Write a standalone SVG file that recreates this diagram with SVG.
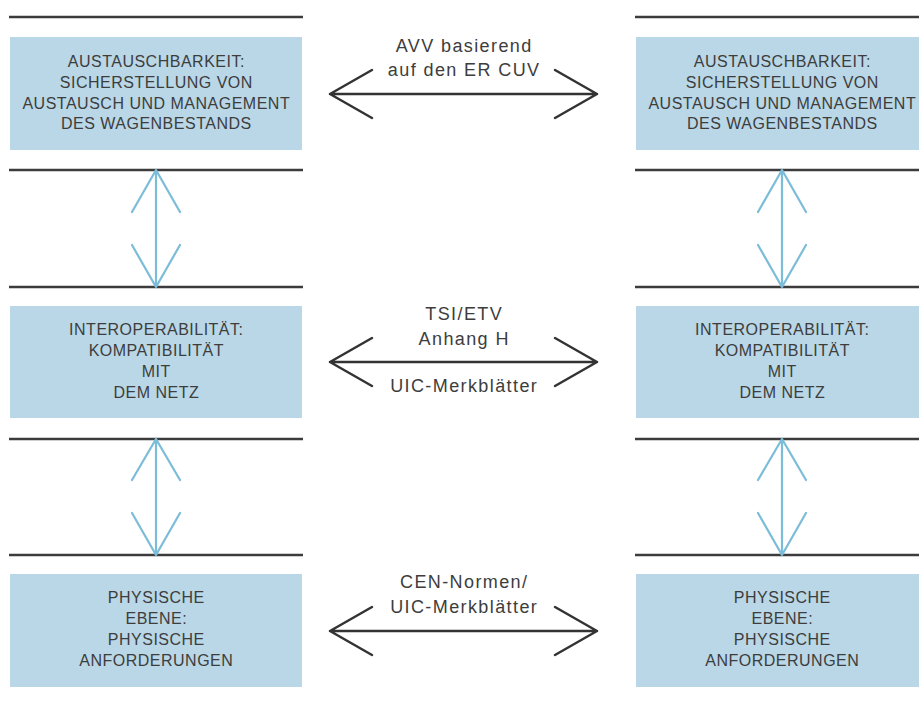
<svg xmlns="http://www.w3.org/2000/svg" width="919" height="704" viewBox="0 0 919 704">
<style>
.bg{fill:#ffffff}
.box{fill:#b9d7e6}
.rule{stroke:#3c3c3c;stroke-width:2.5;fill:none}
.harr{stroke:#333333;stroke-width:2.5;fill:none;stroke-linecap:round;stroke-linejoin:round}
.varr{stroke:#7bbcd9;stroke-width:2.2;fill:none;stroke-linecap:round;stroke-linejoin:round}
.bt{font-family:"Liberation Sans",Arial,sans-serif;font-size:16px;letter-spacing:0.5px;fill:#3d3d3d;text-anchor:middle}
.mt{font-family:"Liberation Sans",Arial,sans-serif;font-size:18px;letter-spacing:1.4px;fill:#3d3d3d;text-anchor:middle}
</style>
<rect class="bg" x="0" y="0" width="919" height="704"/>
<g id="rules">
<path class="rule" d="M9 17H303M9 170H303M9 287H303M9 439H303M9 555H303"/>
<path class="rule" d="M635 17H919M635 170H919M635 287H919M635 439H919M635 555H919"/>
</g>
<g id="node-l1">
<rect class="box" x="10" y="37" width="292" height="113"/>
<text class="bt" x="156.3" y="67">AUSTAUSCHBARKEIT:</text>
<text class="bt" x="156.3" y="88">SICHERSTELLUNG VON</text>
<text class="bt" x="156.3" y="108.5">AUSTAUSCH UND MANAGEMENT</text>
<text class="bt" x="156.3" y="129">DES WAGENBESTANDS</text>
</g>
<g id="node-r1">
<rect class="box" x="636" y="37" width="283" height="113"/>
<text class="bt" x="782.3" y="67">AUSTAUSCHBARKEIT:</text>
<text class="bt" x="782.3" y="88">SICHERSTELLUNG VON</text>
<text class="bt" x="782.3" y="108.5">AUSTAUSCH UND MANAGEMENT</text>
<text class="bt" x="782.3" y="129">DES WAGENBESTANDS</text>
</g>
<g id="node-l2">
<rect class="box" x="10" y="306" width="292" height="112"/>
<text class="bt" x="156.3" y="335">INTEROPERABILITÄT:</text>
<text class="bt" x="156.3" y="356">KOMPATIBILITÄT</text>
<text class="bt" x="156.3" y="377">MIT</text>
<text class="bt" x="156.3" y="398">DEM NETZ</text>
</g>
<g id="node-r2">
<rect class="box" x="636" y="306" width="283" height="112"/>
<text class="bt" x="782.3" y="335">INTEROPERABILITÄT:</text>
<text class="bt" x="782.3" y="356">KOMPATIBILITÄT</text>
<text class="bt" x="782.3" y="377">MIT</text>
<text class="bt" x="782.3" y="398">DEM NETZ</text>
</g>
<g id="node-l3">
<rect class="box" x="10" y="574" width="292" height="113"/>
<text class="bt" x="156.3" y="603">PHYSISCHE</text>
<text class="bt" x="156.3" y="624">EBENE:</text>
<text class="bt" x="156.3" y="645">PHYSISCHE</text>
<text class="bt" x="156.3" y="666">ANFORDERUNGEN</text>
</g>
<g id="node-r3">
<rect class="box" x="636" y="574" width="283" height="113"/>
<text class="bt" x="782.3" y="603">PHYSISCHE</text>
<text class="bt" x="782.3" y="624">EBENE:</text>
<text class="bt" x="782.3" y="645">PHYSISCHE</text>
<text class="bt" x="782.3" y="666">ANFORDERUNGEN</text>
</g>
<g id="connectors">
<path class="harr" d="M330 94H597M372 70L330 94L372 118M555 70L597 94L555 118"/>
<path class="harr" d="M330 362H597M372 338L330 362L372 386M555 338L597 362L555 386"/>
<path class="harr" d="M330 631H597M372 607L330 631L372 655M555 607L597 631L555 655"/>
<path class="varr" d="M156 170V287M132 212L156 170L180 212M132 245L156 287L180 245"/>
<path class="varr" d="M156 439V555M132 480L156 439L180 480M132 513L156 555L180 513"/>
<path class="varr" d="M782 170V287M758 212L782 170L806 212M758 245L782 287L806 245"/>
<path class="varr" d="M782 439V555M758 480L782 439L806 480M758 513L782 555L806 513"/>
<text class="mt" x="464.2" y="52">AVV basierend</text>
<text class="mt" x="464.2" y="76">auf den ER CUV</text>
<text class="mt" x="464.2" y="320">TSI/ETV</text>
<text class="mt" x="464.2" y="345">Anhang H</text>
<text class="mt" x="464.2" y="392">UIC-Merkblätter</text>
<text class="mt" x="464.2" y="588">CEN-Normen/</text>
<text class="mt" x="464.2" y="613">UIC-Merkblätter</text>
</g>
</svg>
